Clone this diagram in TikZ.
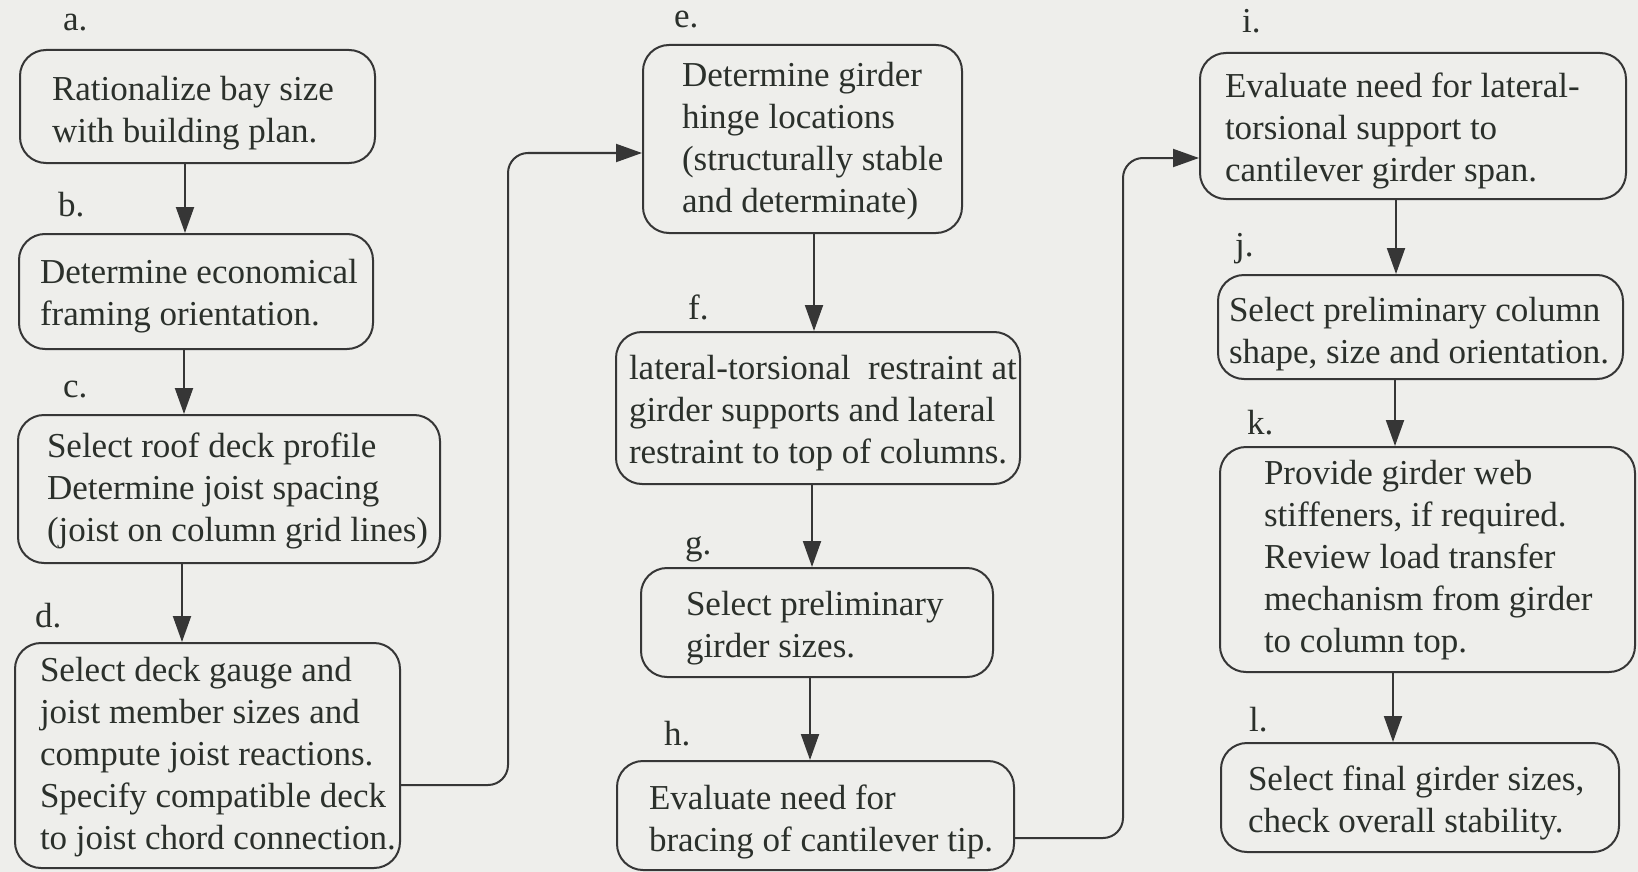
\documentclass[tikz,border=0pt]{standalone}
\usepackage{fontspec}
\setmainfont{Liberation Serif}
\usetikzlibrary{arrows.meta}
\definecolor{bgc}{HTML}{EEEEEB}
\definecolor{inkc}{HTML}{363636}
\definecolor{txtc}{HTML}{2B302B}
% name, left, top, right, bottom, left padding, downward text shift, text
\newcommand\flowbox[8]{%
  \node[fbox, anchor=north west, minimum width={#4-#2}, minimum height={#5-#3}, inner xsep=#6pt]
    (#1) at (#2,#3)
    {\makebox[\dimexpr #4pt-#2pt-#6pt-#6pt\relax][l]{\raisebox{0pt}[\dimexpr\height+#7pt\relax][\dimexpr\depth-#7pt\relax]{\begin{tabular}{@{}l@{}}#8\end{tabular}}}};}
\begin{document}
\begin{tikzpicture}[x=1pt,y=-1pt,
  fbox/.style={draw=inkc, line width=2pt, rounded corners=26pt, inner ysep=0pt, text=txtc,
    font=\fontsize{35}{42}\selectfont},
  lbl/.style={inner sep=0pt, text=txtc, font=\fontsize{35}{42}\selectfont, anchor=base west},
  arr/.style={draw=inkc, line width=2pt, -{Triangle[length=26pt,width=18pt]}},
  conn/.style={arr, rounded corners=20pt}]
\useasboundingbox (0,0) rectangle (1638,872);
\fill[bgc] (0,0) rectangle (1638,872);

% column 1
\flowbox{a}{19}{49}{374}{162}{32}{7}{Rationalize bay size\\with building plan.}
\flowbox{b}{18}{233}{372}{348}{21}{5}{Determine economical\\framing orientation.}
\flowbox{c}{17}{414}{439}{562}{29}{2}{Select roof deck profile\\Determine joist spacing\\(joist on column grid lines)}
\flowbox{d}{14}{642}{399}{867}{25}{2}{Select deck gauge and\\joist member sizes and\\compute joist reactions.\\Specify compatible deck\\to joist chord connection.}

% column 2
\flowbox{e}{642}{44}{961}{232}{39}{2}{Determine girder\\hinge locations\\(structurally stable\\and determinate)}
\flowbox{f}{615}{331}{1019}{483}{13}{5}{lateral-torsional\ \ restraint at\\girder supports and lateral\\restraint to top of columns.}
\flowbox{g}{640}{567}{992}{676}{45}{6}{Select preliminary\\girder sizes.}
\flowbox{h}{616}{760}{1013}{869}{32}{7}{Evaluate need for\\bracing of cantilever tip.}

% column 3
\flowbox{i}{1199}{52}{1625}{198}{25}{5}{Evaluate need for lateral-\\torsional support to\\cantilever girder span.}
\flowbox{j}{1217}{274}{1622}{378}{11}{7}{Select preliminary column\\shape, size and orientation.}
\flowbox{k}{1219}{446}{1634}{671}{44}{1}{Provide girder web\\stiffeners, if required.\\Review load transfer\\mechanism from girder\\to column top.}
\flowbox{l}{1220}{742}{1618}{851}{27}{6}{Select final girder sizes,\\check overall stability.}

% labels
\node[lbl] (la) at (63,31) {a.};
\node[lbl] (lb) at (58,216) {b.};
\node[lbl] (lc) at (63,397) {c.};
\node[lbl] (ld) at (35,627) {d.};
\node[lbl] (le) at (674,28) {e.};
\node[lbl] (lf) at (688,319) {f.};
\node[lbl] (lg) at (685,554) {g.};
\node[lbl] (lh) at (664,745) {h.};
\node[lbl] (li) at (1242,33) {i.};
\node[lbl] (lj) at (1235,256) {j.};
\node[lbl] (lk) at (1247,434) {k.};
\node[lbl] (ll) at (1249,731) {l.};

% vertical arrows
\coordinate (xab) at (185,0);
\coordinate (xbc) at (184,0);
\coordinate (xcd) at (182,0);
\coordinate (xef) at (814,0);
\coordinate (xfg) at (812,0);
\coordinate (xgh) at (810,0);
\coordinate (xij) at (1396,0);
\coordinate (xjk) at (1395,0);
\coordinate (xkl) at (1393,0);
\draw[arr] (a.south -| xab) -- (b.north -| xab);
\draw[arr] (b.south -| xbc) -- (c.north -| xbc);
\draw[arr] (c.south -| xcd) -- (d.north -| xcd);
\draw[arr] (e.south -| xef) -- (f.north -| xef);
\draw[arr] (f.south -| xfg) -- (g.north -| xfg);
\draw[arr] (g.south -| xgh) -- (h.north -| xgh);
\draw[arr] (i.south -| xij) -- (j.north -| xij);
\draw[arr] (j.south -| xjk) -- (k.north -| xjk);
\draw[arr] (k.south -| xkl) -- (l.north -| xkl);

% column-to-column connectors
\coordinate (de1) at (508,785);
\coordinate (de2) at (508,153);
\draw[conn] (d.east |- de1) -- (de1) -- (de2) -- (e.west |- de2);
\coordinate (hi1) at (1123,838);
\coordinate (hi2) at (1123,158);
\draw[conn] (h.east |- hi1) -- (hi1) -- (hi2) -- (i.west |- hi2);
\end{tikzpicture}
\end{document}
